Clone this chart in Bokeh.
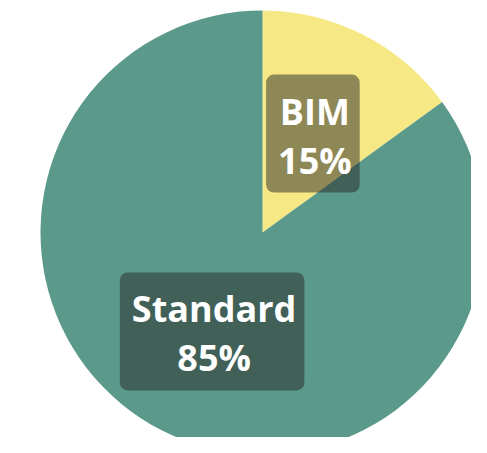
import math
from bokeh.plotting import figure
from bokeh.models import Range1d, ColumnDataSource
from bokeh.core.properties import value
from bokeh.embed import file_html
from bokeh.resources import INLINE

categories = ["BIM", "Standard"]
values = [15, 85]
colors = ["#F7E886", "#5B9A8A"]

W, H = 471, 437
p = figure(width=W, height=H, output_backend="svg", toolbar_location=None,
           x_range=Range1d(0, W), y_range=Range1d(-H, 0),
           min_border=0)
p.axis.visible = False
p.grid.visible = False
p.outline_line_color = None
p.background_fill_color = "white"
p.border_fill_color = "white"

cx, cy, R = 262, -232, 222
total = sum(values)
starts, ends, lx, ly, labels = [], [], [], [], []
cur = math.pi / 2
for c, v in zip(categories, values):
    sweep = 2 * math.pi * v / total
    end = cur
    start = cur - sweep
    starts.append(start)
    ends.append(end)
    mid = (start + end) / 2
    lx.append(cx + 0.5 * R * math.cos(mid))
    ly.append(cy + 0.5 * R * math.sin(mid))
    labels.append(f"{c}\n{round(100 * v / total)}%")
    cur = start

src = ColumnDataSource(dict(start=starts, end=ends, color=colors,
                            lx=lx, ly=ly, label=labels))
p.wedge(x=cx, y=cy, radius=R, start_angle="start", end_angle="end",
        fill_color="color", line_color=None, source=src)
p.text(x="lx", y="ly", text="label", source=src, text_align="center",
       text_baseline="middle", text_color="white",
       text_font=value("Open Sans"), text_font_style="bold",
       text_font_size="36px", text_line_height=1.0,
       background_fill_color="#252525", background_fill_alpha=0.5,
       border_radius=8, padding=(12, 8, 12, 8))

open("out.html", "w").write(file_html(p, INLINE))
